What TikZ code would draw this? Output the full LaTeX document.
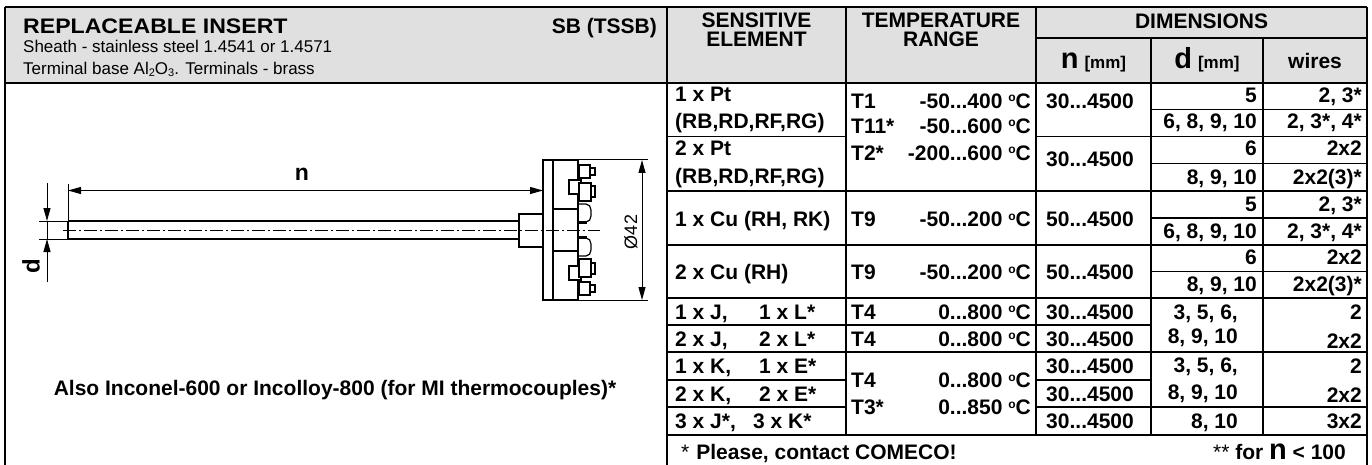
\documentclass[tikz,border=0pt]{standalone}
\usepackage{fontspec}
\setmainfont{Liberation Sans}
\usetikzlibrary{arrows.meta}
\definecolor{hdrgray}{RGB}{224,224,224}
\newcommand\dg{\raisebox{6.5pt}{\fontsize{12}{12}\selectfont o}}
\newcommand\subn[1]{\raisebox{-2pt}{\fontsize{11}{11}\selectfont #1}}
\begin{document}
\begin{tikzpicture}[x=1pt,y=-1pt,
  rule/.style={line width=1.8pt},
  tb/.style={font=\bfseries\fontsize{21}{24}\selectfont, inner sep=0pt, text height=15pt, text depth=0pt},
  tr/.style={font=\fontsize{17}{20}\selectfont, inner sep=0pt, text height=12.2pt, text depth=0pt},
  dimline/.style={line width=1pt},
  part/.style={line width=1.2pt},
  sheathline/.style={line width=2.2pt},
  axis/.style={line width=0.8pt, dash pattern=on 13pt off 3pt on 2pt off 3pt},
  >={Triangle[length=13pt,width=7pt]},
  lw/.style={tb,anchor=west},
  le/.style={tb,anchor=east},
  lc/.style={tb,anchor=center},
]
\useasboundingbox (0,0) rectangle (1372,465);
% header background
\fill[hdrgray] (5,7) rectangle (1367,83);
% grid
\draw[rule] (5,7) -- (5,465);
\draw[rule] (1367,7) -- (1367,465);
\draw[rule] (667,7) -- (667,465);
\draw[rule] (846,7) -- (846,435);
\draw[rule] (1036,7) -- (1036,435);
\draw[rule] (1151,38) -- (1151,435);
\draw[rule] (1263,38) -- (1263,435);
\draw[rule] (5,7) -- (1367,7);
\draw[rule] (1036,38) -- (1367,38);
\draw[rule] (5,83) -- (1367,83);
\draw[rule] (1151,109.5) -- (1367,109.5);
\draw[rule] (667,136.5) -- (846,136.5);
\draw[rule] (1036,136.5) -- (1367,136.5);
\draw[rule] (1151,163.5) -- (1367,163.5);
\draw[rule] (667,191) -- (1367,191);
\draw[rule] (1151,218) -- (1367,218);
\draw[rule] (667,245) -- (1367,245);
\draw[rule] (1151,271.5) -- (1367,271.5);
\draw[rule] (667,298) -- (1367,298);
\draw[rule] (667,325) -- (1151,325);
\draw[rule] (667,352) -- (1367,352);
\draw[rule] (667,380) -- (846,380);
\draw[rule] (1036,380) -- (1151,380);
\draw[rule] (667,407) -- (846,407);
\draw[rule] (1036,407) -- (1367,407);
\draw[rule] (667,435) -- (1367,435);

% header texts
\node[lw] (h1) at (23,26) {\scalebox{1.1}[1]{REPLACEABLE INSERT}};
\node[le] (h2) at (657,26) {SB (TSSB)};
\node[tr,anchor=west] (h3) at (23,46) {Sheath - stainless steel 1.4541 or 1.4571};
\node[tr,anchor=west] (h4) at (23,68) {Terminal base Al\subn{2}O\subn{3}. Terminals - brass};
\node[lc] (h5) at (756.5,20) {SENSITIVE};
\node[lc] (h6) at (756.5,39.5) {ELEMENT};
\node[lc] (h7) at (941,20) {TEMPERATURE};
\node[lc] (h8) at (941,39.5) {RANGE};
\node[lc] (h9) at (1201.5,21) {DIMENSIONS};
\node[tb,anchor=base] (h10) at (1093.5,69) {{\fontsize{29}{29}\selectfont n} {\fontsize{17}{17}\selectfont[mm]}};
\node[tb,anchor=base] (h11) at (1207,69) {{\fontsize{29}{29}\selectfont d} {\fontsize{17}{17}\selectfont[mm]}};
\node[tb,anchor=base] (h12) at (1315,69) {wires};

% row A / B : Pt
\node[lw] (a1) at (675,94) {1 x Pt};
\node[lw] (a2) at (675,121) {(RB,RD,RF,RG)};
\node[lw] (b1) at (675,148) {2 x Pt};
\node[lw] (b2) at (675,176) {(RB,RD,RF,RG)};
\node[lw] (at1) at (851,101) {T1};
\node[le] (ar1) at (1031,101) {-50...400 \dg C};
\node[lw] (at2) at (851,126) {T11*};
\node[le] (ar2) at (1031,126) {-50...600 \dg C};
\node[lw] (at3) at (851,153) {T2*};
\node[le] (ar3) at (1031,153) {-200...600 \dg C};
\node[lc] (an) at (1090,101) {30...4500};
\node[lc] (bn) at (1090,159) {30...4500};
\node[le] (ad1) at (1257,95) {5};
\node[le] (aw1) at (1362,95) {2, 3*};
\node[le] (ad2) at (1257,121) {6, 8, 9, 10};
\node[le] (aw2) at (1362,121) {2, 3*, 4*};
\node[le] (bd1) at (1257,148) {6};
\node[le] (bw1) at (1362,148) {2x2};
\node[le] (bd2) at (1257,177) {8, 9, 10};
\node[le] (bw2) at (1362,177) {2x2(3)*};

% row C / D : Cu
\node[lw] (c1) at (675,219) {1 x Cu (RH, RK)};
\node[lw] (ct) at (851,219) {T9};
\node[le] (cr) at (1031,219) {-50...200 \dg C};
\node[lc] (cn) at (1090,219) {50...4500};
\node[le] (cd1) at (1257,204) {5};
\node[le] (cw1) at (1362,204) {2, 3*};
\node[le] (cd2) at (1257,231) {6, 8, 9, 10};
\node[le] (cw2) at (1362,231) {2, 3*, 4*};
\node[lw] (d1) at (675,272) {2 x Cu (RH)};
\node[lw] (dt) at (851,272) {T9};
\node[le] (dr) at (1031,272) {-50...200 \dg C};
\node[lc] (dn) at (1090,272) {50...4500};
\node[le] (dd1) at (1257,257) {6};
\node[le] (dw1) at (1362,257) {2x2};
\node[le] (dd2) at (1257,284) {8, 9, 10};
\node[le] (dw2) at (1362,284) {2x2(3)*};

% rows E..I : thermocouples
\node[lw] (e1) at (675,311.5) {1 x J,};
\node[lw] (e2) at (759,311.5) {1 x L*};
\node[lw] (et) at (851,311.5) {T4};
\node[le] (er) at (1031,311.5) {0...800 \dg C};
\node[lc] (en) at (1090,311.5) {30...4500};
\node[lw] (f1) at (675,338.5) {2 x J,};
\node[lw] (f2) at (759,338.5) {2 x L*};
\node[lw] (ft) at (851,338.5) {T4};
\node[le] (fr) at (1031,338.5) {0...800 \dg C};
\node[lc] (fn) at (1090,338.5) {30...4500};
\node[le] (ed) at (1238,312) {3, 5, 6,};
\node[le] (fd) at (1238,336) {8, 9, 10};
\node[le] (ew) at (1362,312) {2};
\node[le] (fw) at (1362,341) {2x2};
\node[lw] (g1) at (675,366) {1 x K,};
\node[lw] (g2) at (759,366) {1 x E*};
\node[lw] (h1r) at (675,393.5) {2 x K,};
\node[lw] (h2r) at (759,393.5) {2 x E*};
\node[lw] (i1) at (675,421) {3 x J*,};
\node[lw] (i2) at (753,421) {3 x K*};
\node[lw] (gt1) at (851,380) {T4};
\node[le] (gr1) at (1031,380) {0...800 \dg C};
\node[lw] (gt2) at (851,407) {T3*};
\node[le] (gr2) at (1031,407) {0...850 \dg C};
\node[lc] (gn) at (1090,366) {30...4500};
\node[lc] (hn) at (1090,393.5) {30...4500};
\node[lc] (in) at (1090,421) {30...4500};
\node[le] (gd) at (1238,365) {3, 5, 6,};
\node[le] (hd) at (1238,392) {8, 9, 10};
\node[le] (id) at (1238,421) {8, 10};
\node[le] (gw) at (1362,366) {2};
\node[le] (hw) at (1362,395) {2x2};
\node[le] (iw) at (1362,421) {3x2};

% footnote
\node[lw] (fn1) at (681,452) {{\mdseries *}\hspace{7pt}Please, contact COMECO!};
\node[le] (fn2) at (1346,452) {{\mdseries **} for {\fontsize{29}{29}\selectfont n} \textless{} 100};

% left section note
\node[lc] (note) at (335,388) {Also Inconel-600 or Incolloy-800 (for MI thermocouples)*};

% ---------- drawing ----------
\coordinate (nL) at (68,190.5);
\coordinate (nR) at (543,190.5);
\coordinate (dU) at (47,183);
\coordinate (dA) at (47,221);
\coordinate (dB) at (47,239);
\coordinate (dD) at (47,282);
\coordinate (oT) at (642,160);
\coordinate (oB) at (642,300);

% sheath
\draw[sheathline] (68,221) -- (519,221);
\draw[sheathline] (68,239) -- (519,239);
\draw[sheathline] (68,221) -- (68,239);
% collar
\draw[part] (519,214) rectangle (543,247);
% flange and body
\draw[part] (543,160) rectangle (553,300);
\draw[part] (553,160) rectangle (578,300);
\draw[part] (553,209) -- (578,209);
\draw[part] (553,251) -- (578,251);
% top terminal
\draw[part,fill=white] (579,165) rectangle (590,178);
\draw[part,fill=white] (590,168) rectangle (595,175);
\draw[part,fill=white] (569,180) rectangle (581,194);
\draw[part,fill=white] (579,183) rectangle (591,201);
\draw[part,fill=white] (591,186) rectangle (595,197);
\draw[part] (579,204) -- (586,204) to[out=0,in=90] (591,210) -- (591,216) to[out=-90,in=0] (586,222);
\draw[line width=2.5pt] (579,222.5) -- (587,222.5);
% bottom terminal
\draw[part,fill=white] (579,282) rectangle (590,295);
\draw[part,fill=white] (590,285) rectangle (595,292);
\draw[part,fill=white] (569,266) rectangle (581,280);
\draw[part,fill=white] (579,259) rectangle (591,277);
\draw[part,fill=white] (591,263) rectangle (595,274);
\draw[part] (579,256) -- (586,256) to[out=0,in=-90] (591,250) -- (591,244) to[out=90,in=0] (586,238);
\draw[line width=2.5pt] (579,237.5) -- (587,237.5);
% centre line
\draw[axis] (63,230) -- (600,230);

% n dimension
\draw[dimline] (68,184) -- (68,240);
\draw[dimline,<->] (nL) -- (nR);
\node[font=\bfseries\fontsize{23}{23}\selectfont, inner sep=0pt] (nlab) at (302,174) {n};
% d dimension
\draw[dimline] (39,221) -- (68,221);
\draw[dimline] (39,239) -- (68,239);
\draw[dimline,->] (dU) -- (dA);
\draw[dimline] (dA) -- (dB);
\draw[dimline,->] (dD) -- (dB);
\node[font=\bfseries\fontsize{24}{24}\selectfont, inner sep=0pt, rotate=90] (dlab) at (31,266) {d};
% diameter dimension
\draw[dimline] (578,160) -- (648,160);
\draw[dimline] (578,300) -- (648,300);
\draw[dimline,<->] (oT) -- (oB);
\node[font=\fontsize{18}{18}\selectfont, inner sep=0pt, rotate=90] (olab) at (631,232) {Ø42};
\end{tikzpicture}
\end{document}
